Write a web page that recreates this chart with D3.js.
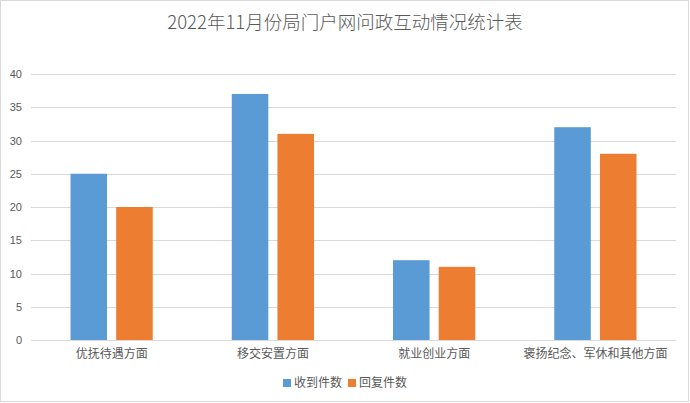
<!DOCTYPE html>
<html>
<head>
<meta charset="utf-8">
<script src="https://cdn.jsdelivr.net/npm/d3@7"></script>
<style>
  body { margin: 0; background: #fff; }
  text { font-family: "Noto Sans CJK SC", "Liberation Sans", sans-serif; fill: #595959; }
</style>
</head>
<body>
<svg id="chart" width="690" height="403"></svg>
<script>
// chart data
var categories = ["优抚待遇方面", "移交安置方面", "就业创业方面", "褒扬纪念、军休和其他方面"];
var seriesNames = ["收到件数", "回复件数"];
var received = [25, 37, 12, 32];
var replied = [20, 31, 11, 28];
var yTicks = [0, 5, 10, 15, 20, 25, 30, 35, 40];
var colors = ["#5b9bd5", "#ed7d31"];

var svg = d3.select("#chart");
var margin = {top: 74, right: 14, bottom: 63, left: 31};
var width = +svg.attr("width") - margin.left - margin.right,
    height = +svg.attr("height") - margin.top - margin.bottom;

// outer frame
svg.append("rect")
    .attr("x", 0.5).attr("y", 0.5)
    .attr("width", 688).attr("height", 401)
    .attr("fill", "#fff")
    .attr("stroke", "#d9d9d9");

// title
svg.append("text")
    .attr("x", 345).attr("y", 29)
    .attr("text-anchor", "middle")
    .style("font-size", "18.5px")
    .style("font-weight", 300)
    .text("2022年11月份局门户网问政互动情况统计表");

var g = svg.append("g")
    .attr("transform", "translate(" + margin.left + "," + margin.top + ")");

var x0 = d3.scaleBand().domain(categories).range([0, width]).paddingInner(0.49).paddingOuter(0.245);
var x1 = d3.scaleBand().domain(seriesNames).range([0, x0.bandwidth()]).paddingInner(0.2);
var y = d3.scaleLinear().domain([0, 40]).range([height, 0]);

// gridlines
g.selectAll("line.grid")
    .data(yTicks)
    .enter().append("line")
    .attr("class", "grid")
    .attr("x1", 0).attr("x2", width)
    .attr("y1", function(d) { return Math.round(y(d)) + 0.5; })
    .attr("y2", function(d) { return Math.round(y(d)) + 0.5; })
    .attr("stroke", "#d9d9d9")
    .attr("stroke-width", 1);

// y axis labels
var yAxis = g.append("g")
    .call(d3.axisLeft(y).tickValues(yTicks).tickSize(0).tickPadding(9));
yAxis.select(".domain").remove();
yAxis.selectAll("text")
    .style("font-size", "11px")
    .style("font-family", "'Liberation Sans', sans-serif")
    .attr("fill", "#595959");

// bars
var data = categories.map(function(c, i) {
  return {cat: c, vals: [received[i], replied[i]]};
});

var groups = g.selectAll("g.cat")
    .data(data)
    .enter().append("g")
    .attr("class", "cat")
    .attr("transform", function(d) { return "translate(" + x0(d.cat) + ",0)"; });

groups.selectAll("rect")
    .data(function(d) { return d.vals.map(function(v, i) { return {name: seriesNames[i], v: v, i: i}; }); })
    .enter().append("rect")
    .attr("x", function(d) { return x1(d.name); })
    .attr("width", x1.bandwidth())
    .attr("y", function(d) { return y(d.v); })
    .attr("height", function(d) { return height - y(d.v); })
    .attr("fill", function(d) { return colors[d.i]; });

// x axis
var xAxis = g.append("g")
    .attr("transform", "translate(0," + height + ")")
    .call(d3.axisBottom(x0).tickSize(0).tickPadding(9));
xAxis.select(".domain").attr("stroke", "#d9d9d9");
xAxis.selectAll("text")
    .style("font-size", "12px")
    .attr("fill", "#595959");

// legend
var legend = svg.append("g").attr("transform", "translate(283,379)");
var items = legend.selectAll("g")
    .data(seriesNames)
    .enter().append("g")
    .attr("transform", function(d, i) { return "translate(" + (i * 65) + ",0)"; });
items.append("rect")
    .attr("width", 8).attr("height", 8)
    .attr("fill", function(d, i) { return colors[i]; });
items.append("text")
    .attr("x", 11).attr("y", 8)
    .style("font-size", "12px")
    .text(function(d) { return d; });
</script>
</body>
</html>
